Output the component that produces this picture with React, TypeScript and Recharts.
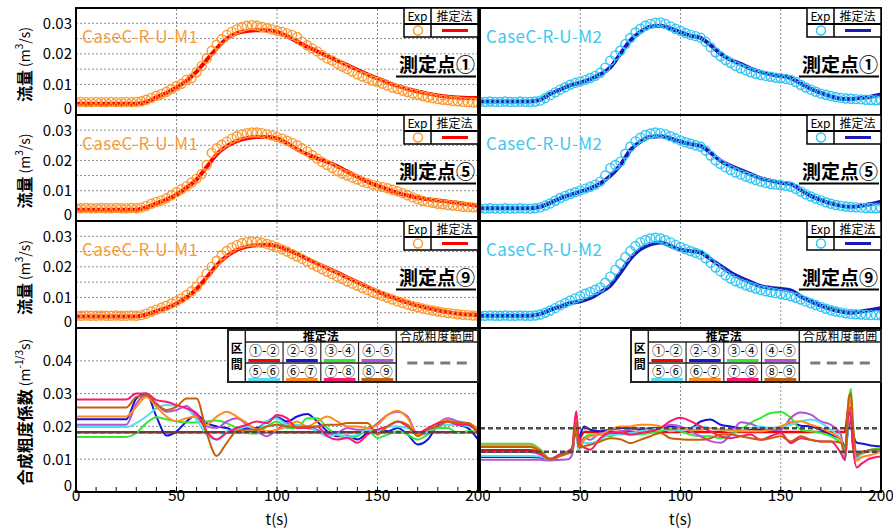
import React from 'react';
import { ComposedChart, Line, XAxis, YAxis, CartesianGrid, ReferenceLine } from 'recharts';

const FONT = '"Noto Sans CJK JP", "Noto Sans", sans-serif';

// time grids (s)
const T_CALC = [0, 5, 10, 15, 20, 25, 30, 35, 40, 45, 50, 55, 60, 65, 70, 75, 80, 85, 90, 95, 100, 105, 110, 115, 120, 125, 130, 135, 140, 145, 150, 155, 160, 165, 170, 175, 180, 185, 190, 195, 200];
const T_EXP = [0, 2.5, 5, 7.5, 10, 12.5, 15, 17.5, 20, 22.5, 25, 27.5, 30, 32.5, 35, 37.5, 40, 42.5, 45, 47.5, 50, 52.5, 55, 57.5, 60, 62.5, 65, 67.5, 70, 72.5, 75, 77.5, 80, 82.5, 85, 87.5, 90, 92.5, 95, 97.5, 100, 102.5, 105, 107.5, 110, 112.5, 115, 117.5, 120, 122.5, 125, 127.5, 130, 132.5, 135, 137.5, 140, 142.5, 145, 147.5, 150, 152.5, 155, 157.5, 160, 162.5, 165, 167.5, 170, 172.5, 175, 177.5, 180, 182.5, 185, 187.5, 190, 192.5, 195, 197.5, 200];
const T_MINOR = [0, 10, 20, 30, 40, 50, 60, 70, 80, 90, 100, 110, 120, 130, 140, 150, 160, 170, 180, 190, 200];
const T_GRID = [50, 100, 150];
const Q_TICKS = [0, 0.005, 0.01, 0.015, 0.02, 0.025, 0.03, 0.035];
const N_TICKS = [0, 0.01, 0.02, 0.03, 0.04, 0.05];

// discharge (m3/s) - CaseC-R-U-M1
const M1_P1_EXP = [0.0042, 0.0043, 0.0042, 0.0042, 0.0043, 0.0042, 0.0042, 0.0043, 0.0042, 0.0042, 0.0043, 0.0042, 0.0043,
  0.0045, 0.0050, 0.0056, 0.0063, 0.0069, 0.0076, 0.0085, 0.0095, 0.0102, 0.0115,
  0.0120, 0.0140, 0.0160, 0.0185, 0.0210, 0.0230, 0.0248, 0.0262, 0.0272, 0.0280,
  0.0287, 0.0292, 0.0294, 0.0292, 0.0288, 0.0284, 0.0280, 0.0275, 0.0272, 0.0267,
  0.0262, 0.0255, 0.0240, 0.0228, 0.0218, 0.0208, 0.0196, 0.0185, 0.0178, 0.0168,
  0.0158, 0.0150, 0.0142, 0.0133, 0.0126, 0.0120, 0.0113, 0.0108, 0.0102, 0.0096,
  0.0090, 0.0085, 0.0080, 0.0075, 0.0070, 0.0066, 0.0062, 0.0058, 0.0055, 0.0052,
  0.0050, 0.0048, 0.0046, 0.0045, 0.0043, 0.0042, 0.0041, 0.0040];
const M1_P1_CALC = [0.0037, 0.0037, 0.0037, 0.0037, 0.0037, 0.0037, 0.0037, 0.0042, 0.0058, 0.0072, 0.0090, 0.0112, 0.0142, 0.0180, 0.0218, 0.0250, 0.0268, 0.0275, 0.0277, 0.0277, 0.0272, 0.0258, 0.0240, 0.0223, 0.0208, 0.0193, 0.0178, 0.0163, 0.0148, 0.0133, 0.0120, 0.0107, 0.0095, 0.0085, 0.0077, 0.0070, 0.0064, 0.0060, 0.0057, 0.0056, 0.0056];
const M1_P5_EXP = [0.0042, 0.0042, 0.0043, 0.0042, 0.0042, 0.0043, 0.0042, 0.0042, 0.0043, 0.0042, 0.0042, 0.0043, 0.0042,
  0.0044, 0.0050, 0.0057, 0.0063, 0.0068, 0.0075, 0.0085, 0.0095, 0.0105, 0.0115,
  0.0127, 0.0140, 0.0155, 0.0185, 0.0225, 0.0240, 0.0252, 0.0262, 0.0272, 0.0280,
  0.0286, 0.0290, 0.0292, 0.0292, 0.0290, 0.0286, 0.0282, 0.0277, 0.0272, 0.0265,
  0.0258, 0.0250, 0.0240, 0.0230, 0.0218, 0.0206, 0.0195, 0.0185, 0.0175, 0.0165,
  0.0157, 0.0150, 0.0143, 0.0137, 0.0130, 0.0125, 0.0120, 0.0116, 0.0112, 0.0108,
  0.0103, 0.0098, 0.0092, 0.0085, 0.0078, 0.0072, 0.0067, 0.0063, 0.0060, 0.0057,
  0.0055, 0.0053, 0.0051, 0.0049, 0.0047, 0.0046, 0.0045, 0.0044];
const M1_P5_CALC = [0.0037, 0.0037, 0.0037, 0.0037, 0.0037, 0.0037, 0.0037, 0.0045, 0.0058, 0.0071, 0.0087, 0.0110, 0.0137, 0.0178, 0.0220, 0.0247, 0.0264, 0.0273, 0.0277, 0.0277, 0.0273, 0.0257, 0.0237, 0.0220, 0.0207, 0.0195, 0.0181, 0.0163, 0.0146, 0.0130, 0.0117, 0.0104, 0.0093, 0.0084, 0.0077, 0.0072, 0.0068, 0.0064, 0.0060, 0.0055, 0.0050];
const M1_P9_EXP = [0.0040, 0.0040, 0.0041, 0.0040, 0.0040, 0.0041, 0.0040, 0.0040, 0.0041, 0.0040, 0.0040, 0.0041, 0.0040,
  0.0042, 0.0047, 0.0054, 0.0060, 0.0066, 0.0073, 0.0080, 0.0088, 0.0097, 0.0108,
  0.0120, 0.0135, 0.0155, 0.0178, 0.0200, 0.0220, 0.0238, 0.0252, 0.0263, 0.0271,
  0.0277, 0.0281, 0.0283, 0.0282, 0.0279, 0.0275, 0.0270, 0.0264, 0.0257, 0.0250,
  0.0242, 0.0234, 0.0226, 0.0217, 0.0208, 0.0200, 0.0192, 0.0184, 0.0176, 0.0168,
  0.0160, 0.0152, 0.0145, 0.0138, 0.0131, 0.0124, 0.0117, 0.0111, 0.0105, 0.0099,
  0.0093, 0.0087, 0.0082, 0.0077, 0.0072, 0.0068, 0.0064, 0.0060, 0.0057, 0.0054,
  0.0051, 0.0049, 0.0047, 0.0045, 0.0043, 0.0042, 0.0041, 0.0040];
const M1_P9_CALC = [0.0038, 0.0038, 0.0038, 0.0038, 0.0038, 0.0038, 0.0038, 0.0044, 0.0055, 0.0066, 0.0080, 0.0100, 0.0128, 0.0165, 0.0205, 0.0235, 0.0255, 0.0266, 0.0271, 0.0272, 0.0268, 0.0256, 0.0242, 0.0226, 0.0211, 0.0196, 0.0181, 0.0165, 0.0150, 0.0135, 0.0120, 0.0106, 0.0094, 0.0083, 0.0073, 0.0065, 0.0058, 0.0052, 0.0047, 0.0044, 0.0042];

// discharge (m3/s) - CaseC-R-U-M2
const M2_P1_EXP = [0.0043, 0.0043, 0.0044, 0.0043, 0.0043, 0.0044, 0.0043, 0.0043, 0.0044, 0.0043, 0.0043,
  0.0044, 0.0047, 0.0055, 0.0065, 0.0074, 0.0083, 0.0091, 0.0099, 0.0105, 0.0110,
  0.0115, 0.0121, 0.0128, 0.0138, 0.0155, 0.0178, 0.0195, 0.0210, 0.0232, 0.0252,
  0.0270, 0.0282, 0.0292, 0.0298, 0.0302, 0.0303, 0.0298, 0.0290, 0.0282, 0.0275,
  0.0268, 0.0262, 0.0258, 0.0253, 0.0240, 0.0222, 0.0205, 0.0192, 0.0180, 0.0170,
  0.0160, 0.0152, 0.0146, 0.0140, 0.0135, 0.0131, 0.0128, 0.0125, 0.0122, 0.0120,
  0.0118, 0.0115, 0.0108, 0.0098, 0.0090, 0.0083, 0.0076, 0.0070, 0.0066, 0.0062,
  0.0059, 0.0056, 0.0054, 0.0053, 0.0052, 0.0051, 0.0050, 0.0049, 0.0048, 0.0048];
const M2_P1_CALC = [0.0044, 0.0044, 0.0044, 0.0044, 0.0044, 0.0044, 0.0050, 0.0069, 0.0083, 0.0097, 0.0106, 0.0117, 0.0133, 0.0156, 0.0200, 0.0244, 0.0272, 0.0289, 0.0292, 0.0283, 0.0270, 0.0259, 0.0252, 0.0228, 0.0200, 0.0181, 0.0167, 0.0152, 0.0141, 0.0133, 0.0128, 0.0121, 0.0103, 0.0086, 0.0072, 0.0061, 0.0053, 0.0052, 0.0056, 0.0060, 0.0067];
const M2_P5_EXP = [0.0041, 0.0041, 0.0042, 0.0041, 0.0041, 0.0042, 0.0041, 0.0041, 0.0042, 0.0041, 0.0041,
  0.0042, 0.0045, 0.0051, 0.0058, 0.0067, 0.0076, 0.0083, 0.0089, 0.0095, 0.0101,
  0.0107, 0.0113, 0.0120, 0.0130, 0.0150, 0.0175, 0.0185, 0.0196, 0.0222, 0.0245,
  0.0263, 0.0275, 0.0284, 0.0289, 0.0292, 0.0290, 0.0286, 0.0280, 0.0273, 0.0266,
  0.0260, 0.0255, 0.0250, 0.0245, 0.0233, 0.0216, 0.0200, 0.0188, 0.0177, 0.0168,
  0.0160, 0.0153, 0.0147, 0.0141, 0.0135, 0.0130, 0.0126, 0.0122, 0.0120, 0.0118,
  0.0116, 0.0113, 0.0106, 0.0097, 0.0088, 0.0081, 0.0074, 0.0068, 0.0062, 0.0057,
  0.0053, 0.0050, 0.0048, 0.0046, 0.0045, 0.0044, 0.0043, 0.0043, 0.0042, 0.0042];
const M2_P5_CALC = [0.0042, 0.0042, 0.0042, 0.0042, 0.0042, 0.0042, 0.0047, 0.0060, 0.0075, 0.0086, 0.0097, 0.0108, 0.0124, 0.0149, 0.0185, 0.0234, 0.0262, 0.0278, 0.0280, 0.0273, 0.0262, 0.0254, 0.0248, 0.0225, 0.0199, 0.0182, 0.0168, 0.0155, 0.0141, 0.0133, 0.0126, 0.0122, 0.0102, 0.0083, 0.0069, 0.0058, 0.0050, 0.0047, 0.0050, 0.0056, 0.0064];
const M2_P9_EXP = [0.0040, 0.0040, 0.0041, 0.0040, 0.0040, 0.0041, 0.0040, 0.0040, 0.0041, 0.0040, 0.0040,
  0.0041, 0.0044, 0.0050, 0.0057, 0.0065, 0.0074, 0.0082, 0.0090, 0.0097, 0.0104,
  0.0112, 0.0118, 0.0125, 0.0133, 0.0148, 0.0168, 0.0190, 0.0210, 0.0232, 0.0252,
  0.0268, 0.0280, 0.0288, 0.0293, 0.0295, 0.0293, 0.0287, 0.0280, 0.0272, 0.0265,
  0.0258, 0.0252, 0.0246, 0.0240, 0.0228, 0.0213, 0.0198, 0.0185, 0.0172, 0.0162,
  0.0153, 0.0146, 0.0140, 0.0134, 0.0129, 0.0124, 0.0120, 0.0117, 0.0114, 0.0111,
  0.0108, 0.0104, 0.0099, 0.0093, 0.0087, 0.0081, 0.0075, 0.0069, 0.0063, 0.0058,
  0.0054, 0.0051, 0.0048, 0.0046, 0.0045, 0.0044, 0.0043, 0.0042, 0.0042, 0.0041];
const M2_P9_CALC = [0.0040, 0.0040, 0.0040, 0.0040, 0.0040, 0.0040, 0.0046, 0.0059, 0.0070, 0.0081, 0.0087, 0.0098, 0.0117, 0.0139, 0.0181, 0.0227, 0.0258, 0.0274, 0.0280, 0.0269, 0.0255, 0.0252, 0.0247, 0.0225, 0.0203, 0.0181, 0.0164, 0.0150, 0.0137, 0.0131, 0.0128, 0.0123, 0.0103, 0.0087, 0.0073, 0.0062, 0.0054, 0.0050, 0.0054, 0.0059, 0.0065];

// composite roughness (m^-1/3 s), M1 - sampled on T_CALC
const NL_12 = [0.0182, 0.0182, 0.0182, 0.0182, 0.0182, 0.0182, 0.0182, 0.0182, 0.0182, 0.0182, 0.0182, 0.0182, 0.0182, 0.0182, 0.0182, 0.0182, 0.0182, 0.0182, 0.0182, 0.0182, 0.0182, 0.0182, 0.0182, 0.0182, 0.0182, 0.0182, 0.0182, 0.0182, 0.0182, 0.0182, 0.0182, 0.0182, 0.0182, 0.0182, 0.0182, 0.0182, 0.0182, 0.0182, 0.0182, 0.0182, 0.0182];
const NL_23 = [0.0222, 0.0222, 0.0222, 0.0222, 0.0222, 0.0222, 0.0285, 0.0300, 0.0230, 0.0172, 0.0185, 0.0215, 0.0235, 0.0210, 0.0200, 0.0195, 0.0185, 0.0195, 0.0195, 0.0215, 0.0228, 0.0215, 0.0230, 0.0238, 0.0215, 0.0185, 0.0170, 0.0172, 0.0160, 0.0180, 0.0190, 0.0185, 0.0195, 0.0175, 0.0145, 0.0160, 0.0205, 0.0220, 0.0205, 0.0195, 0.0160];
const NL_34 = [0.0168, 0.0168, 0.0168, 0.0168, 0.0168, 0.0168, 0.0180, 0.0210, 0.0228, 0.0222, 0.0215, 0.0212, 0.0212, 0.0215, 0.0218, 0.0210, 0.0195, 0.0180, 0.0178, 0.0200, 0.0215, 0.0195, 0.0195, 0.0225, 0.0225, 0.0195, 0.0175, 0.0165, 0.0170, 0.0190, 0.0165, 0.0175, 0.0185, 0.0175, 0.0160, 0.0175, 0.0195, 0.0195, 0.0180, 0.0185, 0.0185];
const NL_45 = [0.0205, 0.0205, 0.0205, 0.0205, 0.0205, 0.0205, 0.0270, 0.0295, 0.0270, 0.0245, 0.0250, 0.0262, 0.0230, 0.0200, 0.0195, 0.0215, 0.0225, 0.0205, 0.0185, 0.0170, 0.0190, 0.0210, 0.0200, 0.0195, 0.0190, 0.0175, 0.0180, 0.0195, 0.0190, 0.0190, 0.0210, 0.0235, 0.0245, 0.0230, 0.0175, 0.0180, 0.0210, 0.0225, 0.0215, 0.0210, 0.0185];
const NL_56 = [0.0198, 0.0198, 0.0198, 0.0198, 0.0198, 0.0198, 0.0210, 0.0230, 0.0255, 0.0265, 0.0262, 0.0255, 0.0220, 0.0175, 0.0160, 0.0185, 0.0190, 0.0200, 0.0190, 0.0215, 0.0225, 0.0205, 0.0205, 0.0200, 0.0185, 0.0170, 0.0175, 0.0170, 0.0175, 0.0190, 0.0185, 0.0200, 0.0200, 0.0195, 0.0175, 0.0185, 0.0200, 0.0205, 0.0205, 0.0200, 0.0190];
const NL_67 = [0.0230, 0.0230, 0.0230, 0.0230, 0.0230, 0.0230, 0.0260, 0.0290, 0.0260, 0.0230, 0.0215, 0.0225, 0.0230, 0.0205, 0.0230, 0.0245, 0.0230, 0.0210, 0.0190, 0.0185, 0.0190, 0.0200, 0.0215, 0.0200, 0.0215, 0.0230, 0.0215, 0.0200, 0.0200, 0.0195, 0.0205, 0.0235, 0.0248, 0.0225, 0.0175, 0.0190, 0.0210, 0.0220, 0.0210, 0.0210, 0.0190];
const NL_78 = [0.0282, 0.0282, 0.0282, 0.0282, 0.0282, 0.0282, 0.0300, 0.0300, 0.0280, 0.0275, 0.0265, 0.0255, 0.0240, 0.0185, 0.0160, 0.0180, 0.0195, 0.0205, 0.0215, 0.0210, 0.0235, 0.0225, 0.0195, 0.0195, 0.0200, 0.0170, 0.0160, 0.0165, 0.0150, 0.0175, 0.0190, 0.0200, 0.0215, 0.0200, 0.0180, 0.0195, 0.0210, 0.0215, 0.0205, 0.0205, 0.0180];
const NL_89 = [0.0258, 0.0258, 0.0258, 0.0258, 0.0258, 0.0258, 0.0290, 0.0295, 0.0268, 0.0250, 0.0260, 0.0285, 0.0285, 0.0180, 0.0110, 0.0150, 0.0185, 0.0190, 0.0190, 0.0200, 0.0205, 0.0200, 0.0198, 0.0200, 0.0200, 0.0205, 0.0205, 0.0210, 0.0210, 0.0210, 0.0175, 0.0200, 0.0215, 0.0205, 0.0170, 0.0190, 0.0200, 0.0215, 0.0210, 0.0210, 0.0180];

// composite roughness, M2 - sampled on T_ROUGH_R
const T_ROUGH_R = [0, 5, 10, 15, 20, 25, 30, 35, 40, 44, 46, 47, 48, 49, 50, 52, 55, 60, 65, 70, 75, 80, 85, 90, 95, 100, 105, 110, 115, 120, 125, 130, 135, 140, 145, 150, 155, 160, 165, 170, 175, 180, 182, 184, 185, 186, 188, 190, 195, 200];
const NR_12 = [0.0127, 0.0127, 0.0127, 0.0127, 0.0127, 0.0127, 0.0120, 0.0100, 0.0112, 0.0120, 0.0125, 0.0170, 0.0200, 0.0150, 0.0165, 0.0183,
  0.0183, 0.0183, 0.0183, 0.0183, 0.0183, 0.0183, 0.0183, 0.0183, 0.0183, 0.0183, 0.0183, 0.0183, 0.0183, 0.0183, 0.0183, 0.0183, 0.0183, 0.0183, 0.0183, 0.0183, 0.0183, 0.0183, 0.0183, 0.0183, 0.0183, 0.0183,
  0.0183, 0.0260, 0.0250, 0.0150, 0.0110, 0.0122, 0.0125, 0.0125];
const NR_23 = [0.0107, 0.0107, 0.0107, 0.0107, 0.0107, 0.0107, 0.0105, 0.0100, 0.0110, 0.0118, 0.0122, 0.0170, 0.0190, 0.0160, 0.0175, 0.0200,
  0.0190, 0.0185, 0.0190, 0.0195, 0.0195, 0.0190, 0.0195, 0.0195, 0.0200, 0.0195, 0.0195, 0.0215, 0.0221, 0.0205, 0.0200, 0.0195, 0.0192, 0.0190, 0.0190, 0.0192, 0.0213, 0.0202, 0.0200, 0.0190, 0.0175, 0.0160,
  0.0140, 0.0200, 0.0230, 0.0180, 0.0150, 0.0148, 0.0142, 0.0139];
const NR_34 = [0.0147, 0.0147, 0.0147, 0.0147, 0.0147, 0.0147, 0.0130, 0.0102, 0.0113, 0.0122, 0.0128, 0.0190, 0.0215, 0.0160, 0.0150, 0.0165,
  0.0175, 0.0175, 0.0170, 0.0180, 0.0175, 0.0175, 0.0180, 0.0185, 0.0195, 0.0185, 0.0175, 0.0170, 0.0170, 0.0164, 0.0175, 0.0190, 0.0211, 0.0226, 0.0241, 0.0244, 0.0226, 0.0190, 0.0185, 0.0180, 0.0170, 0.0150,
  0.0135, 0.0280, 0.0315, 0.0200, 0.0105, 0.0115, 0.0129, 0.0134];
const NR_45 = [0.0098, 0.0098, 0.0098, 0.0098, 0.0098, 0.0098, 0.0098, 0.0096, 0.0098, 0.0100, 0.0115, 0.0170, 0.0195, 0.0139, 0.0150, 0.0165,
  0.0159, 0.0180, 0.0180, 0.0185, 0.0190, 0.0195, 0.0190, 0.0195, 0.0205, 0.0200, 0.0185, 0.0170, 0.0155, 0.0150, 0.0175, 0.0213, 0.0208, 0.0195, 0.0190, 0.0190, 0.0226, 0.0242, 0.0236, 0.0215, 0.0205, 0.0175,
  0.0100, 0.0230, 0.0250, 0.0170, 0.0110, 0.0120, 0.0125, 0.0126];
const NR_56 = [0.0110, 0.0110, 0.0110, 0.0110, 0.0110, 0.0110, 0.0108, 0.0098, 0.0112, 0.0120, 0.0125, 0.0185, 0.0200, 0.0123, 0.0140, 0.0150,
  0.0149, 0.0159, 0.0175, 0.0175, 0.0180, 0.0185, 0.0190, 0.0195, 0.0185, 0.0190, 0.0195, 0.0200, 0.0195, 0.0190, 0.0185, 0.0190, 0.0195, 0.0200, 0.0195, 0.0200, 0.0205, 0.0216, 0.0221, 0.0211, 0.0190, 0.0160,
  0.0095, 0.0220, 0.0240, 0.0160, 0.0100, 0.0115, 0.0125, 0.0129];
const NR_67 = [0.0142, 0.0142, 0.0142, 0.0142, 0.0142, 0.0142, 0.0128, 0.0100, 0.0110, 0.0118, 0.0125, 0.0180, 0.0205, 0.0150, 0.0140, 0.0160,
  0.0170, 0.0175, 0.0190, 0.0200, 0.0200, 0.0205, 0.0205, 0.0200, 0.0190, 0.0195, 0.0190, 0.0190, 0.0195, 0.0190, 0.0190, 0.0185, 0.0185, 0.0185, 0.0190, 0.0200, 0.0213, 0.0216, 0.0205, 0.0195, 0.0180, 0.0160,
  0.0110, 0.0260, 0.0280, 0.0180, 0.0095, 0.0105, 0.0113, 0.0123];
const NR_78 = [0.0122, 0.0122, 0.0122, 0.0122, 0.0122, 0.0122, 0.0115, 0.0100, 0.0115, 0.0125, 0.0135, 0.0200, 0.0246, 0.0180, 0.0145, 0.0135,
  0.0129, 0.0164, 0.0180, 0.0180, 0.0175, 0.0180, 0.0185, 0.0195, 0.0216, 0.0226, 0.0216, 0.0200, 0.0185, 0.0170, 0.0164, 0.0170, 0.0175, 0.0159, 0.0170, 0.0180, 0.0149, 0.0164, 0.0159, 0.0154, 0.0154, 0.0118,
  0.0098, 0.0245, 0.0230, 0.0140, 0.0075, 0.0085, 0.0103, 0.0108];
const NR_89 = [0.0137, 0.0137, 0.0137, 0.0137, 0.0137, 0.0137, 0.0125, 0.0098, 0.0110, 0.0120, 0.0125, 0.0175, 0.0210, 0.0140, 0.0135, 0.0140,
  0.0144, 0.0154, 0.0164, 0.0161, 0.0149, 0.0159, 0.0170, 0.0180, 0.0164, 0.0161, 0.0159, 0.0159, 0.0164, 0.0175, 0.0175, 0.0170, 0.0164, 0.0159, 0.0164, 0.0170, 0.0154, 0.0170, 0.0159, 0.0154, 0.0154, 0.0150,
  0.0120, 0.0290, 0.0300, 0.0210, 0.0115, 0.0118, 0.0129, 0.0129];

// composite roughness range
const RANGE_LEFT = [0.0182];
const RANGE_RIGHT = [0.0123, 0.0194];

const CASES = ['CaseC-R-U-M1', 'CaseC-R-U-M2'];
const POINTS = ['測定点①', '測定点⑤', '測定点⑨'];
const SECTIONS = ['①-②', '②-③', '③-④', '④-⑤', '⑤-⑥', '⑥-⑦', '⑦-⑧', '⑧-⑨'];

const SECTION_COLORS = ['#ff0000', '#1414dc', '#33e833', '#b452d8', '#55ddf2', '#ff8c1a', '#ff1670', '#c4600c'];
const SECTION_WIDTHS = [2.6, 2, 2, 2, 2, 2, 2, 2];
const EXP_COLORS = ['#ff9a30', '#33c6f2'];
const CALC_COLORS = ['#ff0000', '#1a1ab8'];
const CASE_COLORS = ['#f99d3a', '#3cc8f0'];

// layout
const COL_X = [76, 480];
const COL_W = [402, 401];
const ROW_Y = [8, 115, 221, 328];
const ROW_H = [107, 106, 107, 164];
const PAD = 8;
const GRID = '#8c8c8c';

const pts = (ts: number[], vs: number[]) =>
  vs.slice(0, ts.length).map((v, i) => ({ t: ts[i], v }));

const label2 = (v: number, max: number) => {
  const k = Math.round(v * 1000);
  if (k % 10 !== 0 || k > max) return '';
  return k === 0 ? '0' : (k / 1000).toFixed(2);
};

// y tick: the zero label sits a little higher so it clears the panel below
const makeYTick = (max: number) => (props: any) => {
  const { x, y, payload } = props;
  const text = label2(payload.value, max);
  if (!text) return <g />;
  const lift = payload.value === 0 ? 8 : 1;
  return (
    <text x={x} y={y - lift} textAnchor="end" dominantBaseline="central" fontSize={15} fill="#000">{text}</text>
  );
};
const Q_TICK = makeYTick(30);
const N_TICK = makeYTick(40);

function FlowPanel({ col, row, exp, calc }: { col: number; row: number; exp: number[]; calc: number[] }) {
  const left = col === 0;
  const yW = left ? COL_X[0] : 0;
  return (
    <div style={{ position: 'absolute', left: left ? 0 : COL_X[1], top: ROW_Y[row] - PAD }}>
      <ComposedChart width={yW + COL_W[col] + 12} height={ROW_H[row] + 2 * PAD} margin={{ top: PAD, right: 12, bottom: PAD, left: 0 }}>
        <CartesianGrid vertical={false} stroke={GRID} strokeDasharray="2 2" />
        <XAxis dataKey="t" type="number" domain={[0, 200]} ticks={T_MINOR} interval={0} allowDataOverflow
          mirror height={0} axisLine={false} tick={false} tickSize={4} tickLine={{ stroke: '#000' }} />
        <YAxis type="number" domain={[0, 0.035]} ticks={Q_TICKS} interval={0} allowDataOverflow width={yW}
          axisLine={false} tickLine={false} tickSize={0} tickMargin={4} tick={left ? Q_TICK : false} />
        {T_GRID.map((g) => (
          <ReferenceLine key={g} x={g} stroke={GRID} strokeDasharray="2 2" />
        ))}
        <Line data={pts(T_EXP, exp)} dataKey="v" stroke="none" isAnimationActive={false}
          dot={{ r: 4.5, stroke: EXP_COLORS[col], strokeWidth: 1.4, fill: 'none' }} />
        <Line data={pts(T_CALC, calc)} dataKey="v" type="monotone" stroke={CALC_COLORS[col]} strokeWidth={4}
          dot={false} isAnimationActive={false} />
      </ComposedChart>
    </div>
  );
}

function RoughPanel({ col, ts, series, ranges }: { col: number; ts: number[]; series: number[][]; ranges: number[] }) {
  const left = col === 0;
  const yW = left ? COL_X[0] : 0;
  const fmtT = (v: number) => (v % 50 !== 0 || (v === 0 && !left) ? '' : String(v));
  return (
    <div style={{ position: 'absolute', left: left ? 0 : COL_X[1], top: ROW_Y[3] - PAD }}>
      <ComposedChart width={yW + COL_W[col] + 12} height={ROW_H[3] + PAD + 30} margin={{ top: PAD, right: 12, bottom: 0, left: 0 }}>
        <CartesianGrid vertical={false} stroke={GRID} strokeDasharray="2 2" />
        <XAxis dataKey="t" type="number" domain={[0, 200]} ticks={T_MINOR} interval={0} allowDataOverflow
          height={30} axisLine={false} tickSize={-5} tickMargin={3} tickLine={{ stroke: '#000' }}
          tick={{ fontSize: 15.5, fill: '#000' }} tickFormatter={fmtT} />
        <YAxis type="number" domain={[0, 0.05]} ticks={N_TICKS} interval={0} allowDataOverflow width={yW}
          axisLine={false} tickLine={false} tickSize={0} tickMargin={4} tick={left ? N_TICK : false} />
        {T_GRID.map((g) => (
          <ReferenceLine key={g} x={g} stroke={GRID} strokeDasharray="2 2" />
        ))}
        {series.map((s, i) => (
          <Line key={i} data={pts(ts, s)} dataKey="v" type="monotone" stroke={SECTION_COLORS[i]}
            strokeWidth={SECTION_WIDTHS[i]} dot={false} isAnimationActive={false} />
        ))}
        {ranges.map((r) => (
          <ReferenceLine key={r} y={r} stroke="#4a4a4a" strokeWidth={2.5} strokeDasharray="5 3" />
        ))}
      </ComposedChart>
    </div>
  );
}

function FlowLegend({ col, row }: { col: number; row: number }) {
  const R = COL_X[col] + COL_W[col];
  const T = ROW_Y[row];
  const L = R - 74;
  const D = L + 27;
  return (
    <g>
      <rect x={L} y={T} width={74} height={29} fill="#fff" stroke="#000" strokeWidth={1.5} />
      <line x1={D} y1={T} x2={D} y2={T + 29} stroke="#000" strokeWidth={1.5} />
      <line x1={L} y1={T + 16} x2={R} y2={T + 16} stroke="#000" strokeWidth={2} />
      <text x={L + 13.5} y={T + 12.5} fontSize={12} textAnchor="middle">Exp</text>
      <text x={D + 23.5} y={T + 12.5} fontSize={12} textAnchor="middle">推定法</text>
      <circle cx={L + 14} cy={T + 22.5} r={4.5} fill="none" stroke={EXP_COLORS[col]} strokeWidth={1.5} />
      <line x1={D + 11} y1={T + 22.5} x2={D + 37} y2={T + 22.5} stroke={CALC_COLORS[col]} strokeWidth={3} />
    </g>
  );
}

function SectionLegend({ col }: { col: number }) {
  const R = COL_X[col] + COL_W[col];
  const L = R - 250;
  const T = ROW_Y[3] + 2;
  const c0 = 17.3;
  const cw = 37.75;
  const rc = c0 + 4 * cw;
  return (
    <g>
      <rect x={L} y={T} width={250} height={52} fill="#fff" stroke="#222" strokeWidth={2} />
      <line x1={L + c0} y1={T} x2={L + c0} y2={T + 52} stroke="#222" strokeWidth={1.5} />
      <line x1={L + rc} y1={T} x2={L + rc} y2={T + 52} stroke="#222" strokeWidth={1.5} />
      <line x1={L + c0} y1={T + 12} x2={R} y2={T + 12} stroke="#222" strokeWidth={1.5} />
      <line x1={L + c0} y1={T + 33} x2={L + rc} y2={T + 33} stroke="#222" strokeWidth={1.5} />
      {[1, 2, 3].map((k) => (
        <line key={k} x1={L + c0 + cw * k} y1={T + 12} x2={L + c0 + cw * k} y2={T + 52} stroke="#222" strokeWidth={1.2} />
      ))}
      <text x={L + (c0 + rc) / 2} y={T + 10.5} fontSize={12} fontWeight={600} textAnchor="middle">推定法</text>
      <text x={L + (rc + 250) / 2} y={T + 10.5} fontSize={12} textAnchor="middle" letterSpacing={0.5}>合成粗度範囲</text>
      <text x={L + c0 / 2} y={T + 23} fontSize={12} fontWeight={700} textAnchor="middle">区</text>
      <text x={L + c0 / 2} y={T + 39} fontSize={12} fontWeight={700} textAnchor="middle">間</text>
      {SECTIONS.map((s, i) => {
        const cx = L + c0 + cw * ((i % 4) + 0.5);
        const r2 = i >= 4;
        return (
          <g key={s}>
            <text x={cx} y={T + (r2 ? 45.5 : 25)} fontSize={13} textAnchor="middle">{s}</text>
            <line x1={cx - cw / 2 + 3} x2={cx + cw / 2 - 3} y1={T + (r2 ? 49.5 : 30.5)} y2={T + (r2 ? 49.5 : 30.5)}
              stroke={SECTION_COLORS[i]} strokeWidth={3} />
          </g>
        );
      })}
      <line x1={L + rc + 11} x2={L + 240} y1={T + 33} y2={T + 33} stroke="#7a7a7a" strokeWidth={3} strokeDasharray="10 6.5" />
    </g>
  );
}

function Overlay() {
  const frames = [];
  for (let r = 0; r < 4; r++) {
    for (let c = 0; c < 2; c++) {
      frames.push(
        <rect key={`f${r}${c}`} x={COL_X[c]} y={ROW_Y[r]} width={COL_W[c]} height={ROW_H[r]} fill="none" stroke="#000" strokeWidth={2} />
      );
    }
  }
  const labels = [];
  for (let r = 0; r < 3; r++) {
    for (let c = 0; c < 2; c++) {
      const R = COL_X[c] + COL_W[c];
      const T = ROW_Y[r];
      labels.push(
        <g key={`l${r}${c}`}>
          <text x={COL_X[c] + 6} y={T + 35} fontSize={17} fill={CASE_COLORS[c]} letterSpacing={0.4}>{CASES[c]}</text>
          <text x={R - 3} y={T + 64} fontSize={19} fontWeight={700} textAnchor="end">{POINTS[r]}</text>
          <line x1={R - 82} x2={R - 2} y1={T + 68.5} y2={T + 68.5} stroke="#000" strokeWidth={2} />
          <FlowLegend col={c} row={r} />
        </g>
      );
    }
  }
  const titles = [0, 1, 2].map((r) => {
    const cx = 24;
    const cy = ROW_Y[r] + ROW_H[r] / 2 + 3;
    return (
      <text key={`t${r}`} x={cx} y={cy} transform={`rotate(-90 ${cx} ${cy})`} textAnchor="middle" dominantBaseline="central" fontSize={16}>
        <tspan fontWeight={700}>流量</tspan>
        <tspan fontSize={14}> (m</tspan>
        <tspan fontSize={10} dy={-6}>3</tspan>
        <tspan fontSize={14} dy={6}>/s)</tspan>
      </text>
    );
  });
  const ncy = ROW_Y[3] + ROW_H[3] / 2 + 2;
  return (
    <svg width={893} height={529} style={{ position: 'absolute', left: 0, top: 0, pointerEvents: 'none' }}>
      {frames}
      {labels}
      {titles}
      <text x={24} y={ncy} transform={`rotate(-90 24 ${ncy})`} textAnchor="middle" dominantBaseline="central" fontSize={16}>
        <tspan fontWeight={700}>合成粗度係数</tspan>
        <tspan fontSize={14}> (m</tspan>
        <tspan fontSize={10} dy={-6}>-1/3</tspan>
        <tspan fontSize={14} dy={6}>s)</tspan>
      </text>
      <SectionLegend col={0} />
      <SectionLegend col={1} />
      <text x={COL_X[0] + COL_W[0] / 2} y={525} fontSize={15} textAnchor="middle">t(s)</text>
      <text x={COL_X[1] + COL_W[1] / 2} y={525} fontSize={15} textAnchor="middle">t(s)</text>
    </svg>
  );
}

export default function App() {
  return (
    <div style={{ position: 'absolute', left: 0, top: 0, width: 893, height: 529, background: '#fff', fontFamily: FONT, color: '#000' }}>
      <FlowPanel col={0} row={0} exp={M1_P1_EXP} calc={M1_P1_CALC} />
      <FlowPanel col={0} row={1} exp={M1_P5_EXP} calc={M1_P5_CALC} />
      <FlowPanel col={0} row={2} exp={M1_P9_EXP} calc={M1_P9_CALC} />
      <FlowPanel col={1} row={0} exp={M2_P1_EXP} calc={M2_P1_CALC} />
      <FlowPanel col={1} row={1} exp={M2_P5_EXP} calc={M2_P5_CALC} />
      <FlowPanel col={1} row={2} exp={M2_P9_EXP} calc={M2_P9_CALC} />
      <RoughPanel col={0} ts={T_CALC} series={[NL_12, NL_23, NL_34, NL_45, NL_56, NL_67, NL_78, NL_89]} ranges={RANGE_LEFT} />
      <RoughPanel col={1} ts={T_ROUGH_R} series={[NR_12, NR_23, NR_34, NR_45, NR_56, NR_67, NR_78, NR_89]} ranges={RANGE_RIGHT} />
      <Overlay />
    </div>
  );
}
